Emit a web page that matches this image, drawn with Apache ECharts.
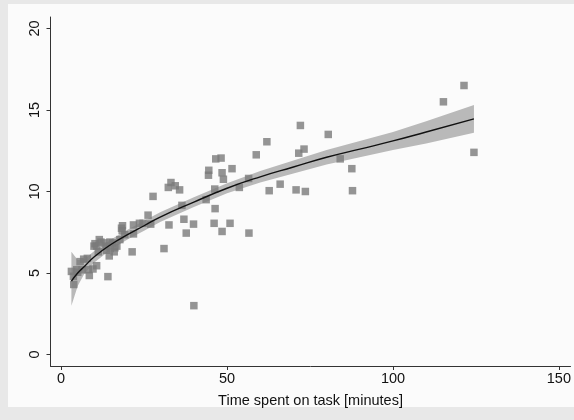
<!DOCTYPE html>
<html>
<head>
<meta charset="utf-8">
<script src="https://cdn.jsdelivr.net/npm/echarts@6/dist/echarts.min.js"></script>
<style>
  html, body { margin: 0; padding: 0; background: #e8e8e8; }
  #frame { position: absolute; left: 8px; top: 4px; width: 566px; height: 403px; background: #fbfbfb; }
  #chart { position: absolute; left: 0; top: 0; width: 574px; height: 420px; }
</style>
</head>
<body>
<div id="frame"></div>
<div id="chart"></div>
<script>
// Observed data: time spent on task (minutes) and outcome
const timeMin = [3.1, 4.7, 3.7, 3.8, 5.0, 5.7, 6.3, 6.8, 7.9, 8.2, 8.5, 9.6, 10.7, 9.9, 10.2, 10.7, 11.5, 11.2, 12.0, 12.9,
  13.5, 13.7, 14.5, 14.7, 14.8, 15.4, 16.2, 16.0, 16.8, 17.7, 18.2, 18.4, 18.5, 19.2, 14.1, 21.4, 21.8, 21.8, 23.6, 24.7,
  26.2, 27.0, 27.7, 31.0, 32.5, 33.1, 32.3, 34.4, 35.7, 36.4, 37.0, 37.7, 39.9, 40.0, 43.7, 44.4, 44.5, 46.3, 46.4, 46.1,
  46.6, 48.2, 48.5, 48.9, 48.5, 50.9, 51.5, 53.7, 56.5, 56.6, 58.8, 62.0, 62.7, 66.0, 70.8, 71.6, 72.1, 73.2, 73.6, 80.5,
  84.1, 87.6, 87.8, 115.2, 121.4, 124.4];
const score = [5.1, 5.2, 4.8, 4.3, 5.05, 5.7, 5.2, 5.85, 5.9, 5.2, 4.85, 5.25, 5.45, 6.65, 6.8, 6.65, 7.05, 6.3, 6.9, 6.85,
  6.65, 6.4, 6.05, 6.9, 6.5, 6.85, 6.55, 6.3, 6.65, 7.05, 7.75, 7.6, 7.9, 7.35, 4.78, 6.3, 7.4, 7.95, 8.05, 8.05,
  8.55, 8.0, 9.7, 6.5, 7.95, 10.55, 10.25, 10.35, 10.1, 9.15, 8.3, 7.45, 8.0, 3.0, 9.5, 11.0, 11.3, 10.15, 8.95, 8.05,
  12.0, 12.05, 11.15, 10.75, 7.55, 8.05, 11.4, 10.25, 10.8, 7.45, 12.25, 13.05, 10.05, 10.45, 10.1, 12.35, 14.05, 12.6, 10.0, 13.5,
  12.0, 11.4, 10.05, 15.5, 16.5, 12.4];

// Fitted curve and its confidence band
const fitX  = [3.1, 5, 7, 10, 15, 20, 25, 30, 40, 50, 60, 70, 80, 90, 100, 110, 124.4];
const fitY  = [4.5, 5.0, 5.4, 6.0, 6.75, 7.35, 7.9, 8.45, 9.35, 10.2, 10.9, 11.5, 12.1, 12.6, 13.1, 13.65, 14.45];
const bandLo = [3.0, 4.2, 4.95, 5.65, 6.45, 7.05, 7.6, 8.15, 9.05, 9.9, 10.55, 11.1, 11.65, 12.1, 12.55, 12.95, 13.6];
const bandHi = [6.3, 5.8, 5.85, 6.35, 7.05, 7.65, 8.2, 8.75, 9.65, 10.5, 11.25, 11.9, 12.55, 13.1, 13.65, 14.3, 15.3];

const xTicks = [0, 50, 100, 150];
const yTicks = [0, 5, 10, 15, 20];
const xTitle = 'Time spent on task [minutes]';

const scatterData = timeMin.map((t, i) => [t, score[i]]);
const fitData = fitX.map((t, i) => [t, fitY[i]]);
const bandData = fitX.map((t, i) => [t, bandLo[i], bandHi[i]]);

const chart = echarts.init(document.getElementById('chart'), null, { renderer: 'canvas' });
const font = 'Liberation Sans, Arial, sans-serif';

chart.setOption({
  animation: false,
  backgroundColor: 'transparent',
  grid: { left: 50.5, right: 2, top: 17, bottom: 54, containLabel: false },
  xAxis: {
    type: 'value', min: -3.2, max: 153.5,
    name: xTitle, nameLocation: 'middle', nameGap: 27,
    nameTextStyle: { color: '#111', fontSize: 14.5, fontFamily: font },
    axisLine: { onZero: false, lineStyle: { color: '#333', width: 1 } },
    axisTick: { show: true, customValues: xTicks, length: 4, lineStyle: { color: '#333' } },
    axisLabel: { customValues: xTicks, color: '#111', fontSize: 14.5, fontFamily: font, margin: 5 },
    splitLine: { show: false }
  },
  yAxis: {
    type: 'value', min: -0.7, max: 20.7,
    axisLine: { show: true, onZero: false, lineStyle: { color: '#333', width: 1 } },
    axisTick: { show: true, customValues: yTicks, length: 4, lineStyle: { color: '#333' } },
    axisLabel: { customValues: yTicks, rotate: 90, color: '#111', fontSize: 14.5, fontFamily: font, margin: 8 },
    splitLine: { show: false }
  },
  series: [
    {
      type: 'custom',
      z: 1,
      renderItem: function (params, api) {
        if (params.dataIndex !== 0) return;
        const top = [], bottom = [];
        for (let i = 0; i < bandData.length; i++) {
          top.push(api.coord([bandData[i][0], bandData[i][2]]));
          bottom.push(api.coord([bandData[i][0], bandData[i][1]]));
        }
        const pts = top.concat(bottom.reverse());
        return { type: 'polygon', shape: { points: pts }, style: { fill: '#b9b9b9' } };
      },
      data: bandData
    },
    {
      type: 'scatter',
      z: 3,
      symbol: 'rect',
      symbolSize: 7.5,
      itemStyle: { color: '#7a7a7a' },
      data: scatterData
    },
    {
      type: 'line',
      z: 4,
      smooth: true,
      showSymbol: false,
      lineStyle: { color: '#111', width: 1.4 },
      data: fitData
    }
  ]
});
</script>
</body>
</html>
